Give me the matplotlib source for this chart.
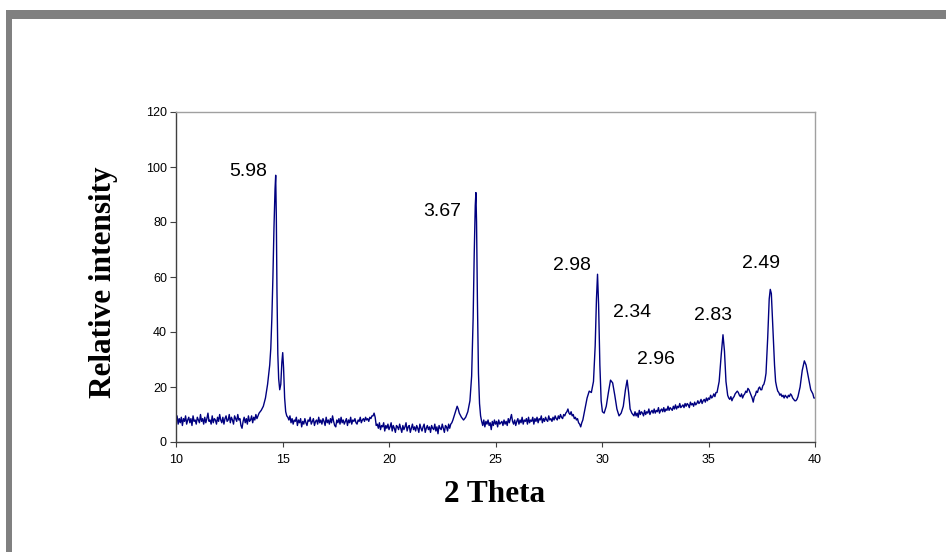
import matplotlib
matplotlib.use("Agg")
import matplotlib.pyplot as plt
import numpy as np
from matplotlib.patches import Rectangle

# ---- data ----
# noisy baseline stretches, sampled every 0.05 degree
base_a_range = (10.00, 13.85)
base_a = [
    8.0, 9.5, 6.5, 8.5, 7.0, 9.0, 6.0, 8.5, 7.5, 9.5,
    6.5, 8.0, 9.0, 7.0, 8.5, 6.0, 9.5, 7.5, 8.0, 6.5,
    9.0, 8.0, 7.0, 10.0, 7.5, 8.5, 6.5, 9.0, 7.0, 8.5,
    10.5, 7.5, 8.0, 6.5, 9.5, 7.0, 8.5, 8.0, 6.5, 9.0,
    7.5, 10.0, 8.0, 7.0, 9.0, 6.5, 8.5, 9.5, 7.5, 8.0,
    10.0, 7.0, 9.0, 8.0, 6.5, 9.5, 8.5, 7.5, 10.0, 8.0,
    8.5, 6.0, 5.0, 7.5, 9.0, 7.0, 8.5, 6.5, 9.5, 7.5,
    8.0, 9.5, 7.0, 9.0, 8.0, 10.0, 8.5, 9.5,
]
peak_a_x = [13.9, 14.0, 14.1, 14.2, 14.3, 14.4, 14.45, 14.5, 14.55, 14.6, 14.65, 14.68,
            14.71, 14.74, 14.78, 14.82, 14.87, 14.92, 14.97, 15.01, 15.05, 15.1, 15.15, 15.2]
peak_a_y = [10.5, 11.5, 13.0, 16.0, 21.0, 28.0, 34.0, 45.0, 60.0, 78.0, 92.0, 97.0,
            82.0, 55.0, 32.0, 23.0, 19.0, 21.0, 29.0, 32.5, 27.0, 16.0, 11.0, 9.5]

base_b_range = (15.25, 19.25)
base_b = [
    9.0, 8.0, 9.5, 7.0, 8.5, 6.5, 8.0, 7.5, 9.0, 6.0,
    8.0, 7.0, 8.5, 5.5, 7.5, 6.5, 8.5, 7.0, 6.0, 8.0,
    7.5, 9.0, 6.5, 7.5, 8.5, 6.0, 7.5, 8.0, 6.5, 9.0,
    7.0, 8.0, 6.5, 8.5, 7.5, 6.0, 9.0, 7.0, 8.0, 6.5,
    8.5, 7.0, 9.5, 7.5, 6.0, 5.5, 8.0, 7.0, 8.5, 6.5,
    9.0, 7.0, 8.0, 6.5, 7.5, 8.5, 6.0, 8.0, 7.0, 9.0,
    6.5, 8.0, 7.5, 8.5, 7.0, 6.5, 8.0, 7.5, 9.0, 7.0,
    8.0, 8.5, 7.5, 9.0, 8.0, 8.5, 7.5, 9.0, 8.5, 9.5,
    9.5,
]
step_b_x = [19.3, 19.35, 19.4]
step_b_y = [10.5, 9.0, 6.0]

base_c_range = (19.45, 22.95)
base_c = [
    6.5, 5.0, 7.0, 4.5, 6.0, 5.5, 7.0, 4.0, 6.0, 5.0,
    6.5, 4.5, 5.5, 7.0, 4.0, 6.0, 5.0, 3.5, 6.0, 5.5,
    4.5, 6.5, 5.0, 3.5, 6.0, 4.5, 5.5, 7.0, 4.0, 5.5,
    6.0, 3.5, 5.0, 6.5, 4.5, 5.5, 4.0, 6.0, 5.0, 3.5,
    6.5, 5.0, 4.0, 5.5, 6.5, 3.5, 5.0, 6.0, 4.5, 5.5,
    3.5, 6.0, 5.0, 4.5, 6.5, 4.0, 5.5, 3.0, 6.0, 5.0,
    4.5, 6.5, 5.0, 3.5, 6.0, 5.5, 4.0, 6.5, 5.0, 6.5,
    7.0,
]
peak_b_x = [23.0, 23.1, 23.2, 23.25, 23.3, 23.4, 23.5, 23.6, 23.7, 23.8, 23.88, 23.95,
            24.0, 24.05, 24.08, 24.11, 24.15, 24.2, 24.25, 24.3]
peak_b_y = [8.0, 10.5, 13.0, 12.0, 10.5, 9.0, 8.0, 9.0, 11.0, 15.0, 24.0, 45.0,
            68.0, 86.0, 90.7, 80.0, 52.0, 25.0, 14.0, 9.5]

base_d_range = (24.35, 28.25)
base_d = [
    7.5, 6.0, 8.0, 5.5, 7.5, 6.5, 8.0, 6.0, 7.0, 4.5,
    7.5, 6.0, 8.0, 6.5, 7.5, 5.5, 8.0, 6.5, 7.0, 7.5,
    6.0, 8.0, 6.5, 7.5, 6.0, 8.5, 7.0, 8.5, 10.0, 7.5,
    6.5, 8.0, 6.0, 7.5, 8.5, 6.5, 8.0, 7.0, 9.0, 6.5,
    8.0, 7.5, 8.5, 6.5, 9.0, 7.0, 8.0, 7.5, 9.0, 6.5,
    8.5, 7.5, 9.0, 7.0, 8.5, 8.0, 9.5, 7.0, 8.5, 7.5,
    9.0, 8.0, 7.5, 9.5, 8.0, 8.5, 7.5, 9.0, 8.0, 9.5,
    8.5, 8.0, 9.5, 8.5, 10.0, 9.0, 8.5, 10.0, 9.5,
]
peak_c_x = [28.3, 28.35, 28.4, 28.45, 28.5, 28.55, 28.6, 28.65, 28.7, 28.75, 28.8, 28.85,
            28.9, 28.95, 29.0, 29.05, 29.1, 29.15, 29.2, 29.3, 29.4, 29.5, 29.6, 29.68,
            29.74, 29.79, 29.84, 29.9, 29.96, 30.02, 30.1, 30.2, 30.3, 30.4, 30.5, 30.6,
            30.7, 30.8, 30.9, 31.0, 31.1, 31.18, 31.25, 31.32, 31.4]
peak_c_y = [10.5, 11.0, 12.0, 10.5, 10.0, 11.0, 9.5, 10.0, 8.5, 9.0, 8.0, 8.5,
            7.0, 6.5, 5.5, 7.0, 8.0, 10.0, 12.0, 16.0, 18.5, 18.0, 22.0, 35.0,
            52.0, 61.0, 50.0, 28.0, 15.0, 11.0, 10.5, 13.0, 18.0, 22.5, 21.5, 17.0,
            12.0, 9.5, 10.5, 13.0, 19.0, 22.5, 18.0, 12.0, 10.5]

base_e_range = (31.45, 35.15)
base_e = [
    10.0, 9.5, 11.0, 9.5, 10.5, 9.0, 11.5, 10.0, 11.0, 10.5,
    9.5, 11.5, 10.0, 11.0, 10.5, 12.0, 10.0, 11.0, 11.5, 10.5,
    12.0, 10.5, 11.5, 11.0, 12.5, 10.5, 11.5, 12.0, 11.0, 12.5,
    11.0, 12.0, 11.5, 13.0, 11.5, 12.5, 12.0, 11.5, 13.0, 12.0,
    13.5, 12.0, 13.0, 12.5, 14.0, 12.5, 13.0, 13.5, 12.5, 14.0,
    13.0, 14.0, 13.5, 12.5, 14.5, 13.5, 14.0, 13.0, 14.5, 13.5,
    14.0, 15.0, 14.0, 14.5, 15.5, 14.0, 15.0, 15.5, 14.5, 16.0,
    15.0, 16.0, 15.5, 17.0, 16.0,
]
peak_d_x = [35.2, 35.25, 35.3, 35.35, 35.4, 35.45, 35.5, 35.55, 35.6, 35.68, 35.75, 35.82,
            35.9, 35.95, 36.0, 36.05, 36.1, 36.15, 36.2, 36.25, 36.3, 36.35, 36.4, 36.45,
            36.5, 36.55, 36.6, 36.65, 36.7, 36.75, 36.8, 36.85, 36.9, 36.95, 37.0, 37.05,
            37.1, 37.15, 37.2, 37.25, 37.3, 37.35, 37.4, 37.45, 37.5, 37.55, 37.6, 37.65,
            37.7, 37.78, 37.85, 37.9, 37.95, 38.02, 38.1, 38.15, 38.2, 38.25, 38.3, 38.35,
            38.4, 38.45, 38.5, 38.55, 38.6, 38.65, 38.7, 38.75, 38.8, 38.85, 38.9, 38.95,
            39.0, 39.05, 39.1, 39.15, 39.2, 39.3, 39.4, 39.5, 39.58, 39.7, 39.8, 39.9,
            39.95, 40.0]
peak_d_y = [16.5, 17.5, 16.5, 18.0, 18.0, 20.0, 22.0, 27.0, 32.0, 39.0, 33.0, 22.0,
            17.0, 16.0, 15.5, 16.5, 15.0, 16.0, 16.5, 17.5, 18.0, 18.5, 18.0, 17.0,
            16.5, 17.5, 16.0, 17.0, 17.5, 18.5, 18.0, 19.5, 19.0, 18.0, 17.0, 16.0,
            14.5, 16.5, 17.0, 18.5, 18.0, 19.5, 20.0, 19.0, 19.0, 20.5, 21.0, 22.5,
            25.0, 38.0, 52.0, 55.5, 54.0, 42.0, 28.0, 22.0, 20.0, 18.5, 18.0, 17.0,
            17.5, 16.5, 17.0, 16.0, 17.0, 16.5, 16.0, 17.0, 16.5, 17.5, 17.0, 16.0,
            15.5, 15.0, 15.0, 15.5, 16.5, 20.0, 26.0, 29.5, 28.0, 23.0, 19.0, 17.5,
            16.0, 16.0]

peak_labels = ["5.98", "3.67", "2.98", "2.34", "2.96", "2.83", "2.49"]
label_x = [13.38, 22.49, 28.58, 31.39, 32.55, 35.21, 37.47]
label_y = [98.2, 84.0, 64.1, 47.1, 30.1, 45.9, 64.8]

x_ticks = [10, 15, 20, 25, 30, 35, 40]
y_ticks = [0, 20, 40, 60, 80, 100, 120]


def grid(rng, vals):
    return list(np.linspace(rng[0], rng[1], len(vals)))


two_theta = (grid(base_a_range, base_a) + peak_a_x + grid(base_b_range, base_b) + step_b_x
             + grid(base_c_range, base_c) + peak_b_x + grid(base_d_range, base_d) + peak_c_x
             + grid(base_e_range, base_e) + peak_d_x)
intensity = (base_a + peak_a_y + base_b + step_b_y + base_c + peak_b_y + base_d + peak_c_y
             + base_e + peak_d_y)

W, H = 946, 552
fig = plt.figure(figsize=(W / 100, H / 100), dpi=100)
fig.patch.set_facecolor("white")

# grey frame (top and left bars)
fig.patches.append(Rectangle((6 / W, 0), 6 / W, 1 - 10 / H, transform=fig.transFigure,
                             facecolor="#808080", edgecolor="none"))
fig.patches.append(Rectangle((6 / W, 1 - 19 / H), 1 - 6 / W, 9 / H, transform=fig.transFigure,
                             facecolor="#808080", edgecolor="none"))

ax = fig.add_axes([176 / W, 1 - 442 / H, (815 - 176) / W, (442 - 112) / H])
ax.plot(two_theta, intensity, color="#000080", linewidth=1.0)

ax.set_xlim(10, 40)
ax.set_ylim(0, 120)
ax.set_xticks(x_ticks)
ax.set_yticks(y_ticks)
ax.tick_params(axis="both", direction="out", width=0.8, color="#404040", labelsize=9)
ax.tick_params(axis="y", length=4.5, pad=2)
ax.tick_params(axis="x", length=3.5, pad=5)
for lab in ax.get_xticklabels() + ax.get_yticklabels():
    lab.set_family("Liberation Sans")

for side in ["left", "bottom"]:
    ax.spines[side].set_color("#404040")
    ax.spines[side].set_linewidth(1.0)
for side in ["top", "right"]:
    ax.spines[side].set_color("#a0a0a0")
    ax.spines[side].set_linewidth(1.0)

for t, xv, yv in zip(peak_labels, label_x, label_y):
    ax.text(xv, yv, t, ha="center", va="center", fontsize=14,
            family="Liberation Sans", color="black")

fig.text(103 / W, 1 - 282 / H, "Relative intensity", rotation=90,
         ha="center", va="center", fontsize=22.5, fontweight="bold",
         family="Liberation Serif")
fig.text(495 / W, 1 - 494 / H, "2 Theta", ha="center", va="center",
         fontsize=22.5, fontweight="bold", family="Liberation Serif")

fig.savefig("out.png", dpi=100)
